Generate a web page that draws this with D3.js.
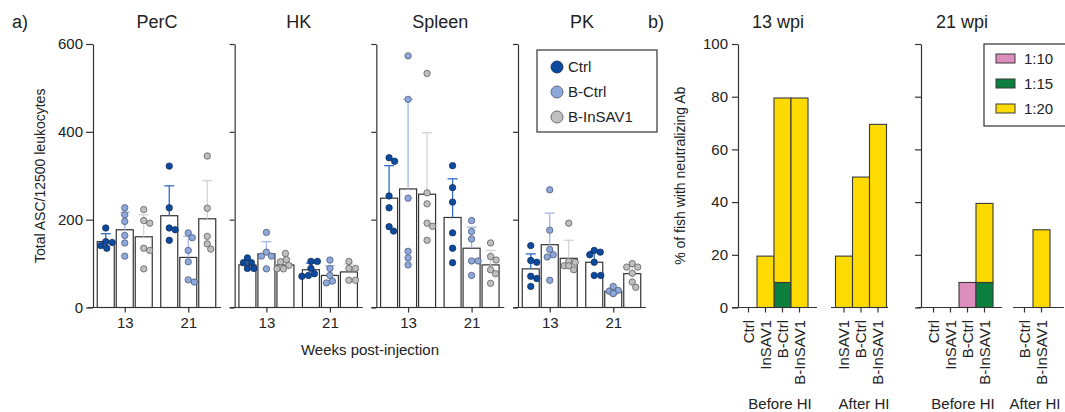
<!DOCTYPE html>
<html lang="en">
<head>
<meta charset="UTF-8">
<title>ASC and neutralizing Ab</title>
<script src="https://cdn.jsdelivr.net/npm/d3@7"></script>
<style>
    body { margin: 0; padding: 0; background: #fff; }
    svg { display: block; font-family: "Liberation Sans", Arial, Helvetica, sans-serif; }
    .domain, .tick line { stroke: #333; stroke-width: 1.2; }
</style>
</head>
<body>
<div id="chart"></div>
<script>
    // ---- panel a data ----
    const tissues = ["PerC", "HK", "Spleen", "PK"]
    const weeks = ["13", "21"]
    const groups = ["Ctrl", "B-Ctrl", "B-InSAV1"]
    const yTicksA = [0, 200, 400, 600]

    // order: wk13 Ctrl, B-Ctrl, B-InSAV1, wk21 Ctrl, B-Ctrl, B-InSAV1
    const meanPerC = [150, 177, 161, 209, 114, 202]
    const sdPerC = [18, 40, 50, 68, 48, 87]
    const ptsPerC = [
        [181, 150, 148, 141, 135],
        [227, 211, 196, 164, 147, 117],
        [223, 198, 192, 135, 130, 88],
        [322, 227, 181, 177, 153],
        [170, 159, 130, 104, 63, 58],
        [345, 226, 162, 145, 133]
    ]

    const meanHK = [97, 122, 97, 86, 73, 81]
    const sdHK = [10, 28, 14, 15, 22, 18]
    const ptsHK = [
        [113, 102, 102, 89, 89],
        [171, 126, 117, 117, 88],
        [123, 109, 104, 96, 88, 88],
        [105, 105, 89, 77, 73, 71],
        [108, 89, 73, 60, 56],
        [105, 89, 89, 62, 62]
    ]

    const meanSpleen = [249, 270, 258, 205, 135, 97]
    const sdSpleen = [74, 204, 140, 88, 48, 33]
    const ptsSpleen = [
        [341, 333, 254, 227, 184, 174],
        [573, 474, 249, 128, 113, 97],
        [533, 261, 236, 192, 185, 153],
        [323, 273, 240, 170, 135, 102],
        [198, 173, 156, 106, 106, 73],
        [147, 116, 108, 86, 77, 55]
    ]

    const meanPK = [88, 143, 112, 103, 37, 77]
    const sdPK = [34, 72, 41, 25, 7, 18]
    const ptsPK = [
        [141, 107, 103, 71, 66, 48],
        [268, 176, 132, 120, 115, 62],
        [192, 105, 103, 95, 95, 86],
        [130, 126, 120, 103, 73, 73],
        [48, 39, 37, 32, 32],
        [100, 92, 92, 78, 58, 46]
    ]

    // ---- panel b data ----
    const titers = ["1:10", "1:15", "1:20"]
    const yTicksB = [0, 20, 40, 60, 80, 100]

    const cats13Before = ["Ctrl", "InSAV1", "B-Ctrl", "B-InSAV1"]
    const t110_13Before = [0, 0, 0, 0]
    const t115_13Before = [0, 0, 9.5, 0]
    const t120_13Before = [0, 19.5, 70, 79.5]

    const cats13After = ["InSAV1", "B-Ctrl", "B-InSAV1"]
    const t110_13After = [0, 0, 0]
    const t115_13After = [0, 0, 0]
    const t120_13After = [19.5, 49.5, 69.5]

    const cats21Before = ["Ctrl", "InSAV1", "B-Ctrl", "B-InSAV1"]
    const t110_21Before = [0, 0, 9.5, 0]
    const t115_21Before = [0, 0, 0, 9.5]
    const t120_21Before = [0, 0, 0, 30]

    const cats21After = ["B-Ctrl", "B-InSAV1"]
    const t110_21After = [0, 0]
    const t115_21After = [0, 0]
    const t120_21After = [0, 29.5]

    // ---- styling ----
    const dotFill = { "Ctrl": "#0b4a9e", "B-Ctrl": "#8ea8dc", "B-InSAV1": "#bfbfbf" }
    const dotStroke = { "Ctrl": "#15305e", "B-Ctrl": "#4f5d78", "B-InSAV1": "#5e5e5e" }
    const errColor = { "Ctrl": "#2f6cc4", "B-Ctrl": "#a3b8e6", "B-InSAV1": "#d3d3d3" }
    const titerColor = { "1:10": "#de8dbf", "1:15": "#0b7f3d", "1:20": "#fedb00" }

    const w = 1065
    const h = 412

    const svg = d3.select("#chart").append("svg")
        .attr("width", w)
        .attr("height", h)

    // ================= panel a =================
    const meansAll = [meanPerC, meanHK, meanSpleen, meanPK]
    const sdAll = [sdPerC, sdHK, sdSpleen, sdPK]
    const ptsAll = [ptsPerC, ptsHK, ptsSpleen, ptsPK]

    const yA = d3.scaleLinear().domain([0, 600]).range([307.5, 44])
    const panelX = d3.scalePoint().domain(tissues).range([93, 518])
    const weekX = d3.scalePoint().domain(weeks).range([0, 127]).padding(0.5)
    const groupX = d3.scaleBand().domain(groups).range([-27.5, 27.5]).paddingInner(0.105)
    const r = 3.2

    // simple beeswarm: nudge each dot sideways until it no longer overlaps
    function swarm(vals) {
        const placed = []
        const out = []
        vals.forEach(v => {
            const y = yA(v)
            let dx = 0
            for (let k = 0; k < 40; k++) {
                const cand = (k % 2 ? 1 : -1) * Math.ceil(k / 2) * 0.5
                const hit = placed.some(p => Math.hypot(p.x - cand, p.y - y) < 2 * r - 0.2)
                if (!hit) { dx = cand; break }
            }
            placed.push({ x: dx, y: y })
            out.push({ v: v, dx: dx })
        })
        return out
    }

    tissues.forEach((t, ti) => {
        const g = svg.append("g").attr("transform", "translate(" + panelX(t) + ",0)")

        g.append("g")
            .call(d3.axisLeft(yA).tickValues(yTicksA).tickSize(ti == 0 ? 7 : 5).tickSizeOuter(0)
                .tickFormat(ti == 0 ? d3.format("d") : ""))
            .call(a => a.selectAll("text").attr("font-size", 15).attr("fill", "#222").attr("font-family", null))

        const xa = g.append("g")
            .attr("transform", "translate(0," + yA(0) + ")")
            .call(d3.axisBottom(weekX).tickSize(5).tickSizeOuter(0).tickPadding(5))
        xa.select(".domain").attr("d", "M-5,0H128")
        xa.selectAll("text").attr("font-size", 15).attr("fill", "#222").attr("font-family", null)

        g.append("text")
            .attr("x", 64).attr("y", 28)
            .attr("text-anchor", "middle")
            .attr("font-size", 18).attr("fill", "#222")
            .text(t)

        weeks.forEach((wk, wi) => {
            const gw = g.append("g").attr("transform", "translate(" + weekX(wk) + ",0)")
            groups.forEach((gr, gi) => {
                const idx = wi * 3 + gi
                const m = meansAll[ti][idx]
                const sd = sdAll[ti][idx]
                const bx = groupX(gr)
                const cx = bx + groupX.bandwidth() / 2

                gw.append("rect")
                    .attr("x", bx).attr("y", yA(m))
                    .attr("width", groupX.bandwidth())
                    .attr("height", yA(0) - yA(m))
                    .attr("fill", "#fff").attr("stroke", "#333").attr("stroke-width", 1.2)

                gw.append("line")
                    .attr("x1", cx).attr("x2", cx)
                    .attr("y1", yA(m)).attr("y2", yA(m + sd))
                    .attr("stroke", errColor[gr]).attr("stroke-width", 1.3)
                gw.append("line")
                    .attr("x1", cx - 5).attr("x2", cx + 5)
                    .attr("y1", yA(m + sd)).attr("y2", yA(m + sd))
                    .attr("stroke", errColor[gr]).attr("stroke-width", 1.3)

                gw.selectAll(null)
                    .data(swarm(ptsAll[ti][idx]))
                    .enter()
                    .append("circle")
                    .attr("cx", d => cx + d.dx)
                    .attr("cy", d => yA(d.v))
                    .attr("r", r)
                    .attr("fill", dotFill[gr])
                    .attr("stroke", dotStroke[gr])
                    .attr("stroke-width", 0.8)
            })
        })
    })

    svg.append("text").attr("x", 12).attr("y", 28).attr("font-size", 18).attr("fill", "#222").text("a)")

    svg.append("text")
        .attr("transform", "translate(45," + (yA(300)) + ") rotate(-90)")
        .attr("text-anchor", "middle")
        .attr("font-size", 14).attr("fill", "#222")
        .text("Total ASC/12500 leukocytes")

    svg.append("text")
        .attr("x", 370).attr("y", 355)
        .attr("text-anchor", "middle")
        .attr("font-size", 15).attr("fill", "#222")
        .text("Weeks post-injection")

    // legend a
    const legA = svg.append("g").attr("transform", "translate(537,50)")
    legA.append("rect").attr("width", 120).attr("height", 82)
        .attr("fill", "#fff").attr("stroke", "#333").attr("stroke-width", 1.2)
    groups.forEach((gr, i) => {
        legA.append("circle").attr("cx", 20).attr("cy", 17 + i * 25).attr("r", 6)
            .attr("fill", dotFill[gr]).attr("stroke", dotStroke[gr]).attr("stroke-width", 0.9)
        legA.append("text").attr("x", 31).attr("y", 17 + i * 25).attr("dy", "0.35em")
            .attr("font-size", 15).attr("fill", "#222").text(gr)
    })

    // ================= panel b =================
    const yB = d3.scaleLinear().domain([0, 100]).range([307.5, 44])
    const step = 17

    const segments = [
        { cats: cats13Before, vals: [t110_13Before, t115_13Before, t120_13Before], start: 740, line: [732, 817], label: "Before HI", lx: 780 },
        { cats: cats13After, vals: [t110_13After, t115_13After, t120_13After], start: 835.5, line: [831, 888], label: "After HI", lx: 864 },
        { cats: cats21Before, vals: [t110_21Before, t115_21Before, t120_21Before], start: 925, line: [917, 1002], label: "Before HI", lx: 963 },
        { cats: cats21After, vals: [t110_21After, t115_21After, t120_21After], start: 1016, line: [1013, 1064], label: "After HI", lx: 1035 }
    ]

    const stack = d3.stack().keys(titers.map((t, i) => i))

    segments.forEach(seg => {
        const bx = d3.scaleBand().domain(seg.cats).range([seg.start, seg.start + step * seg.cats.length])
        const rows = seg.cats.map((c, ci) => seg.vals.map(arr => arr[ci]))
        const layers = stack(rows)
        const g = svg.append("g")

        layers.forEach((layer, li) => {
            g.selectAll(null)
                .data(layer.map((d, ci) => ({ d: d, c: seg.cats[ci] })).filter(o => o.d[1] > o.d[0]))
                .enter()
                .append("rect")
                .attr("x", o => bx(o.c))
                .attr("y", o => yB(o.d[1]))
                .attr("width", bx.bandwidth())
                .attr("height", o => yB(o.d[0]) - yB(o.d[1]))
                .attr("fill", titerColor[titers[li]])
                .attr("stroke", "#3a3a3a").attr("stroke-width", 1.1)
        })

        const xa = g.append("g")
            .attr("transform", "translate(0," + yB(0) + ")")
            .call(d3.axisBottom(bx).tickSize(5).tickSizeOuter(0).tickFormat(""))
        xa.select(".domain").attr("d", "M" + seg.line[0] + ",0H" + seg.line[1])

        g.selectAll(null)
            .data(seg.cats)
            .enter()
            .append("text")
            .attr("transform", c => "translate(" + (bx(c) + bx.bandwidth() / 2) + ",320) rotate(-90)")
            .attr("text-anchor", "end")
            .attr("dy", "0.36em")
            .attr("font-size", 15).attr("fill", "#222")
            .text(c => c)

        g.append("text")
            .attr("x", seg.lx).attr("y", 409)
            .attr("text-anchor", "middle")
            .attr("font-size", 15).attr("fill", "#222")
            .text(seg.label)
    })

    // y axes b
    svg.append("g").attr("transform", "translate(738,0)")
        .call(d3.axisLeft(yB).tickValues(yTicksB).tickSize(6).tickSizeOuter(0).tickPadding(4))
        .call(a => a.selectAll("text").attr("font-size", 15).attr("fill", "#222").attr("font-family", null))
    svg.append("g").attr("transform", "translate(921,0)")
        .call(d3.axisLeft(yB).tickValues(yTicksB).tickSize(6).tickSizeOuter(0).tickFormat(""))

    svg.append("text").attr("x", 648).attr("y", 28).attr("font-size", 18).attr("fill", "#222").text("b)")
    svg.append("text").attr("x", 778).attr("y", 28).attr("text-anchor", "middle")
        .attr("font-size", 18).attr("fill", "#222").text("13 wpi")
    svg.append("text").attr("x", 962).attr("y", 28).attr("text-anchor", "middle")
        .attr("font-size", 18).attr("fill", "#222").text("21 wpi")

    svg.append("text")
        .attr("transform", "translate(685," + yB(50) + ") rotate(-90)")
        .attr("text-anchor", "middle")
        .attr("font-size", 14).attr("fill", "#222")
        .text("% of fish with neutralizing Ab")

    // legend b
    const legB = svg.append("g").attr("transform", "translate(984,44)")
    legB.append("rect").attr("width", 90).attr("height", 82)
        .attr("fill", "#fff").attr("stroke", "#333").attr("stroke-width", 1.2)
    titers.forEach((t, i) => {
        legB.append("rect").attr("x", 12).attr("y", 10 + i * 25).attr("width", 19).attr("height", 9)
            .attr("fill", titerColor[t]).attr("stroke", "#3a3a3a").attr("stroke-width", 1)
        legB.append("text").attr("x", 40).attr("y", 15 + i * 25).attr("dy", "0.35em")
            .attr("font-size", 15).attr("fill", "#222").text(t)
    })
</script>
</body>
</html>
